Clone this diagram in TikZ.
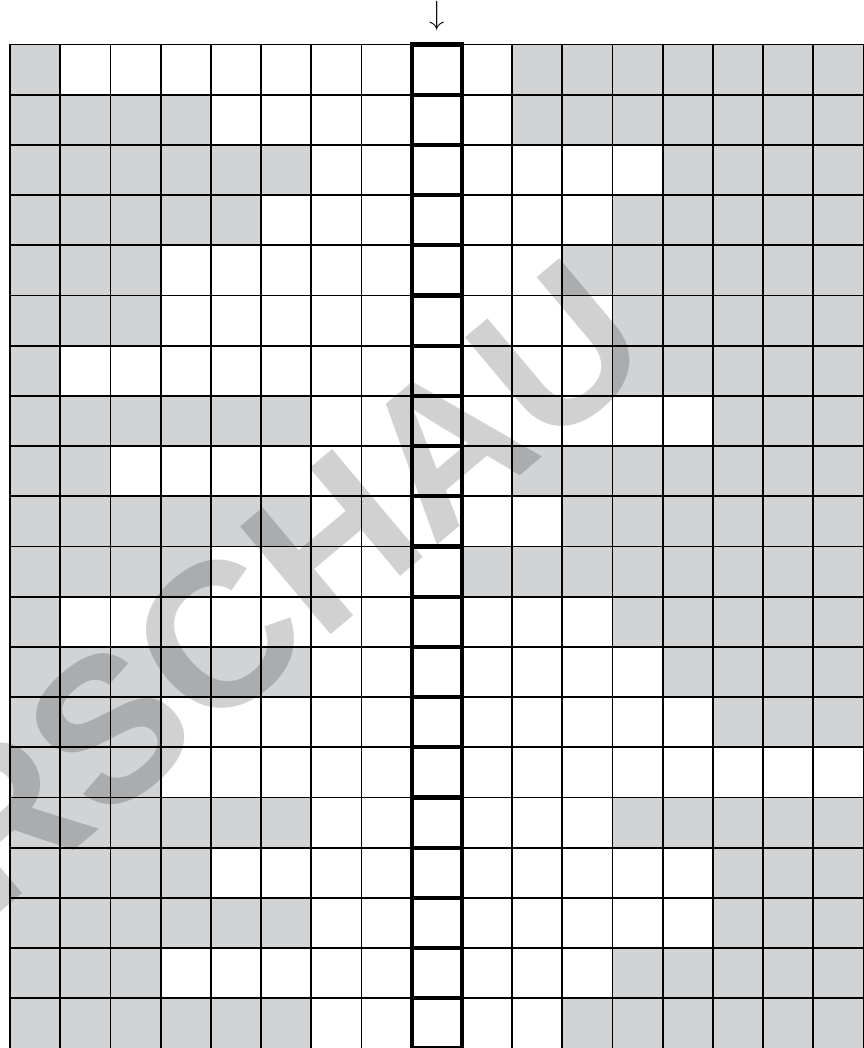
\documentclass[tikz,border=0pt]{standalone}
\usepackage{fontspec}
\newfontfamily\stampfont{Liberation Sans}
\usepackage{tikz}
\usetikzlibrary{positioning}
\definecolor{cellgray}{RGB}{209,211,212}

\begin{document}
\begin{tikzpicture}[x=1cm,y=1cm,
    gridline/.style={line width=1pt,black},
    colbox/.style={line width=2.4pt,black},
    stamp/.style={rotate=40,inner sep=0pt,text=black,text opacity=0.18,
      font=\stampfont\bfseries\fontsize{116}{116}\selectfont}]
    \useasboundingbox (-0.2,0.01) rectangle (17.01,20.886);
    \foreach \lg/\rw [count=\i] in {1/1,4/1,6/4,5/3,3/2,3/3,1/3,6/5,2/1,6/2,4/0,1/3,6/4,3/5,3/8,6/3,4/5,6/5,3/3,6/2}{
      \fill[cellgray] (0,20-\i) rectangle (\lg,21-\i);
      \fill[cellgray] (9+\rw,20-\i) rectangle (17,21-\i);
    }
    \draw[gridline] (0,0) grid (17,20);
    \foreach \i in {0,...,19}{
      \draw[colbox] (8,\i) rectangle (9,\i+1);
    }
    \node[font=\fontsize{19}{19}\selectfont,inner sep=0pt] (arrow) at (8.5,20.56) {↓};
    \node[stamp] (stamp) at (5.36,9.22) {RSCHAU};
  \end{tikzpicture}
\end{document}
